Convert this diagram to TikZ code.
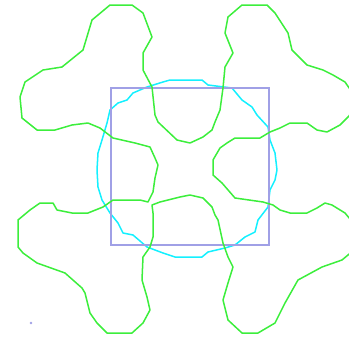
\documentclass[tikz,border=0pt]{standalone}
\usetikzlibrary{positioning}
\definecolor{BlobGreen}{RGB}{60,238,60}
\definecolor{RingCyan}{RGB}{20,240,255}
\definecolor{FramePurple}{RGB}{160,160,230}

\begin{document}
\begin{tikzpicture}[x=1pt, y=-1pt, blob/.style={draw=BlobGreen,line width=1.5pt,line join=round}, ring/.style={draw=RingCyan,line width=1.5pt,line join=round}, frame/.style={draw=FramePurple,line width=2pt}]
\useasboundingbox (0,0) rectangle (349,341);
\clip (0,0) rectangle (349,341);
% cyan ring round the frame
\draw[ring] (170,80) -- (202,80) -- (208,85) -- (232,88) -- (242,100) -- (252,107) -- (257,115) -- (268,127) -- (270,140) -- (275,153) -- (277,170) -- (275,180) -- (270,190) -- (268,207) -- (258,220) -- (255,232) -- (245,237) -- (235,245) -- (225,248) -- (208,252) -- (202,257) -- (175,257) -- (163,253) -- (147,247) -- (133,235) -- (123,233) -- (118,223) -- (110,213) -- (102,200) -- (98,187) -- (97,170) -- (98,153) -- (102,140) -- (107,123) -- (110,110) -- (118,103) -- (127,100) -- (133,93) -- (140,90) -- (147,87) -- (163,82) -- cycle;
% frame
\coordinate (tl) at (111,88);
\coordinate (br) at (269,245);
\draw[frame] (tl) rectangle (br);
% green outline, one closed curve
\draw[blob] (100,128) -- (88,123) -- (72,125) -- (55,130) -- (37,130) -- (22,118) -- (20,97) -- (25,82) -- (43,70) -- (62,67) -- (83,50) -- (92,20) -- (110,5) -- (132,5) -- (143,13) -- (152,37) -- (143,53) -- (143,70) -- (152,87) -- (155,115) -- (158,122) -- (177,140) -- (190,143) -- (203,137) -- (212,130) -- (215,122) -- (220,110) -- (223,88) -- (225,67) -- (233,53) -- (225,33) -- (228,17) -- (242,5) -- (267,5) -- (275,13) -- (288,33) -- (292,50) -- (307,65) -- (323,70) -- (333,75) -- (345,82) -- (354,95) -- (354,110) -- (348,117) -- (340,125) -- (327,132) -- (317,130) -- (307,123) -- (290,123) -- (280,128) -- (270,132) -- (260,138) -- (235,138) -- (227,143) -- (220,148) -- (213,160) -- (213,175) -- (222,183) -- (235,198) -- (263,202) -- (273,205) -- (280,210) -- (290,213) -- (307,213) -- (317,208) -- (325,203) -- (332,205) -- (345,213) -- (355,225) -- (354,250) -- (342,260) -- (322,267) -- (298,280) -- (285,303) -- (275,323) -- (258,333) -- (242,333) -- (228,320) -- (223,300) -- (228,283) -- (233,267) -- (228,257) -- (223,243) -- (218,220) -- (215,215) -- (212,207) -- (203,198) -- (190,195) -- (180,197) -- (160,202) -- (152,205) -- (153,213) -- (153,237) -- (150,247) -- (143,257) -- (142,280) -- (147,297) -- (150,310) -- (143,323) -- (132,333) -- (107,333) -- (97,323) -- (90,313) -- (85,293) -- (82,288) -- (65,273) -- (37,263) -- (23,253) -- (18,247) -- (18,220) -- (30,210) -- (40,203) -- (53,203) -- (57,210) -- (72,213) -- (88,213) -- (103,207) -- (113,200) -- (140,200) -- (148,202) -- (153,192) -- (155,178) -- (158,165) -- (155,158) -- (150,147) -- (135,143) -- (113,138) -- cycle;
% stray dot
\fill[FramePurple] (31,323) circle (1.3);
\end{tikzpicture}
\end{document}
